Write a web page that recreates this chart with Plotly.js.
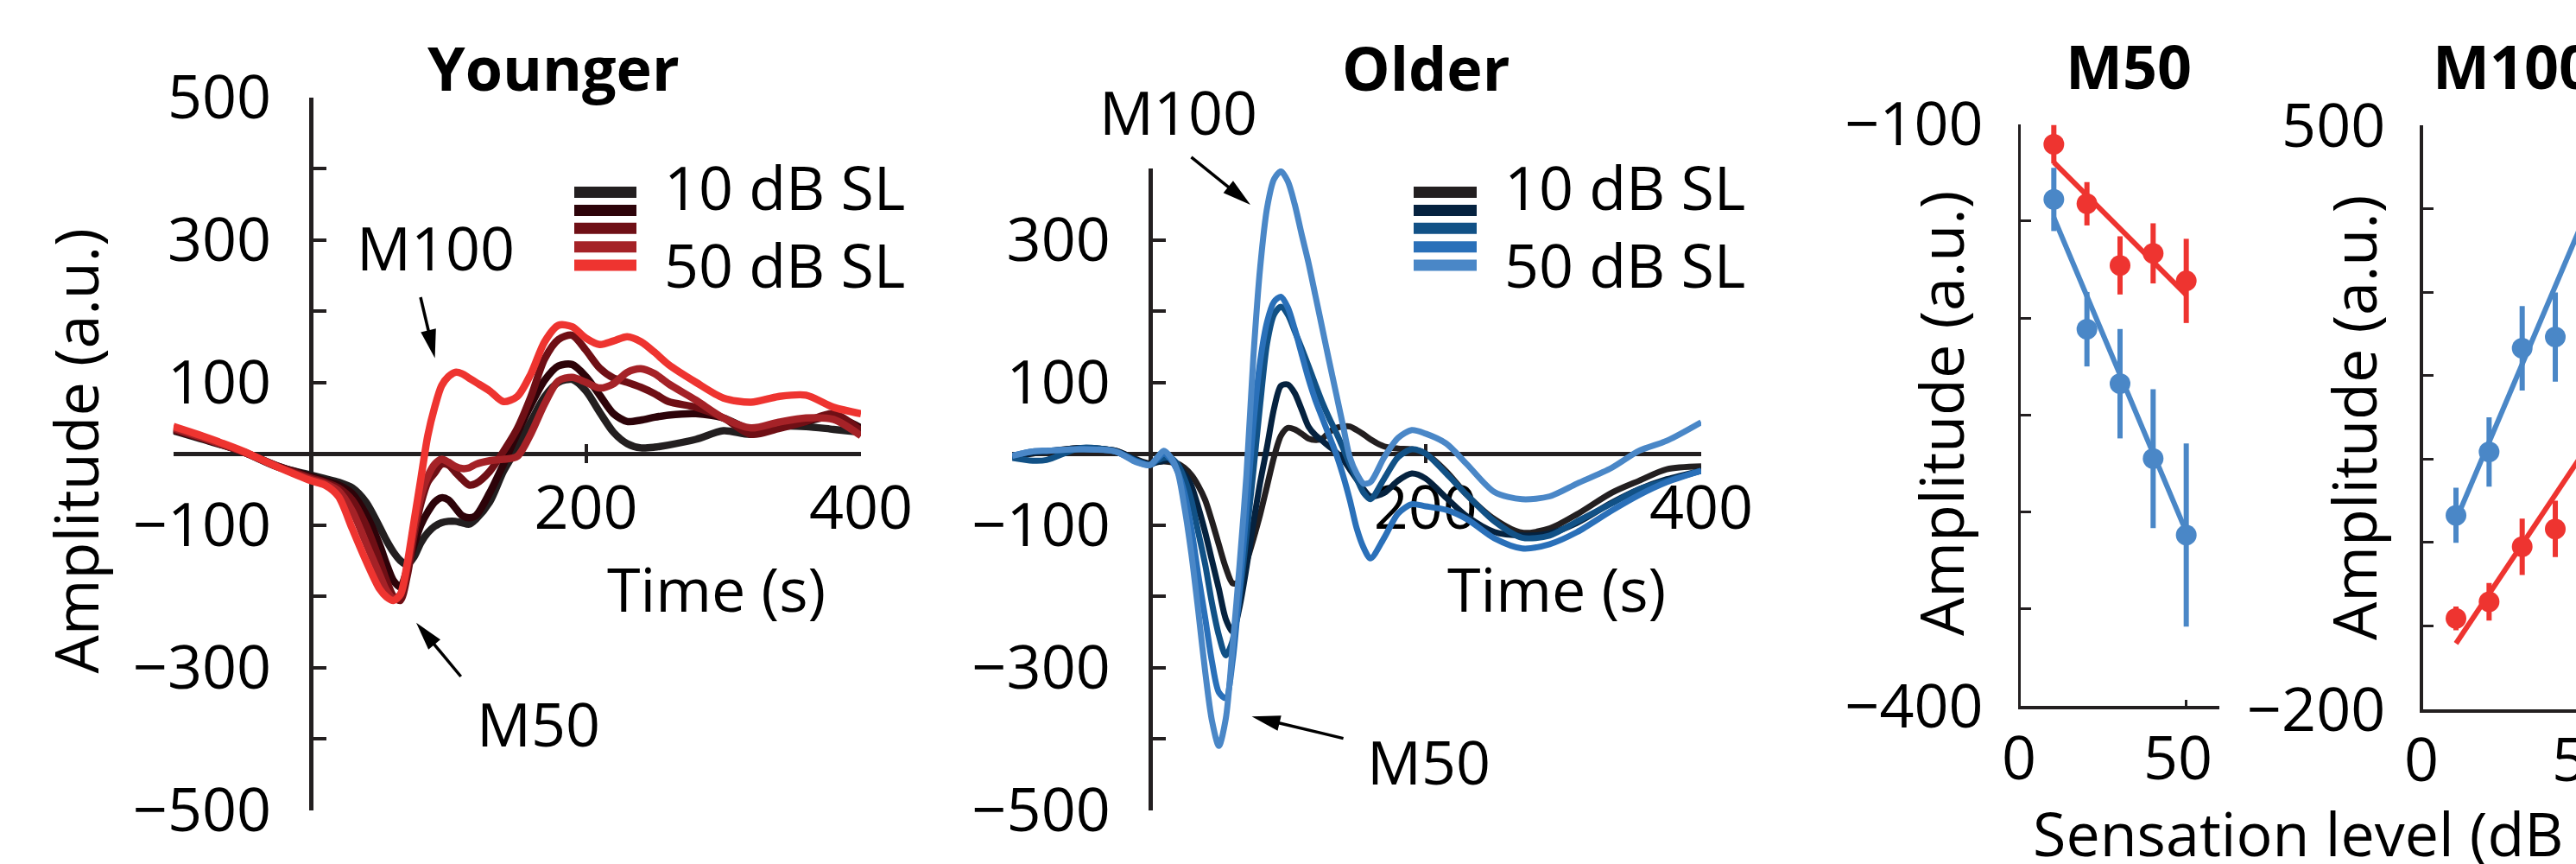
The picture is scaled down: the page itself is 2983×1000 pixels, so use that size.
<!DOCTYPE html>
<html><head><meta charset="utf-8">
<script src="https://cdn.plot.ly/plotly-3.0.1.min.js"></script>
<style>html,body{margin:0;padding:0;background:#fff;}#chart{width:2983px;height:1000px;}</style>
</head><body><div id="chart"></div>
<script>
// ---------------- DATA ----------------
const youngerTime = [-100,-75,-50,-25,0,10,20,30,40,50,55,60,65,70,75,80,85,90,95,100,105,110,115,120,130,140,150,160,170,180,190,200,210,220,230,240,250,260,280,300,320,340,360,380,400];
const youngerSL10 = [32,18,3,-18,-30, -35,-40,-48,-68,-103, -122,-138,-150,-156,-145, -125,-111,-102,-97,-95, -95,-97,-99,-92,-68, -25,8,45,80,100, 104,88,58,30,14, 8,9,12,20,32, 27,38,38,34,30];
const youngerSL20 = [33,19,3,-17,-32, -38,-44,-56,-85,-128, -155,-178,-187,-162,-128, -100,-82,-68,-62,-65, -76,-87,-90,-87,-55, -15,28,68,103,123, 125,108,82,56,45, 47,51,54,56,50, 34,38,45,52,36];
const youngerSL30 = [34,19,3,-17,-34, -40,-48,-65,-100,-150, -178,-200,-206,-172,-115, -70,-40,-27,-15,-16, -26,-36,-44,-42,-25, 3,35,80,133,160, 166,145,120,106,100, 93,84,73,65,50, 27,35,45,56,32];
const youngerSL40 = [36,20,3,-18,-36, -42,-52,-80,-125,-170, -192,-203,-198,-160,-105, -60,-32,-15,-8,-12, -18,-21,-20,-15,-10, -8,-4,28,70,102, 107,100,92,98,114, 119,112,98,75,50, 36,44,50,48,25];
const youngerSL50 = [38,22,4,-18,-38, -44,-60,-105,-150,-190, -201,-206,-198,-155,-95, -35,25,65,95,108, 114,112,106,100,88, 73,80,112,157,180, 178,162,153,158,164, 157,142,125,100,78, 72,80,82,65,56];

const olderTime = [-100,-85,-75,-50,-25,-10,0,5,10,15,20,25,30,35,40,45,50,55,60,65,70,75,80,85,90,95,100,105,110,115,120,125,130,135,140,145,150,155,160,170,180,190,200,215,230,250,270,290,310,335,355,375,400];
const olderSL10 = [-4,0,3,8,4, -8,-14,-12,-11,-12, -14,-20,-30,-45,-65, -95,-128,-160,-182,-180, -152,-120,-85,-45,-5, 25,36,34,28,21, 19,21,30,36,38, 38,33,27,20,10, 7,6,0,-25,-58, -92,-111,-105,-85,-55, -38,-22,-18];
const olderSL20 = [-3,1,3,8,4, -9,-15,-12,-10,-8, -15,-28,-45,-75,-110, -150,-190,-232,-250,-215, -160,-98,-40,10,63, 95,97,85,62,38, 26,18,10,2,-8, -22,-36,-50,-60,-55, -38,-28,-35,-62,-88, -110,-115,-112,-97,-69, -50,-36,-24];
const olderSL30 = [-6,-10,-9,8,3, -10,-16,-10,-6,-6, -15,-35,-65,-110,-155, -210,-255,-283,-262,-200, -115,-25,70,155,195, 206,195,172,148,123, 97,72,50,30,8, -15,-35,-55,-64,-35, -5,6,0,-28,-58, -95,-118,-115,-95,-70, -50,-38,-24];
const olderSL40 = [-3,3,4,6,3, -11,-16,-8,0,-8, -25,-55,-105,-170,-230, -292,-335,-343,-290,-190, -80,40,130,185,213, 220,205,175,140,105, 75,50,25,0,-30, -65,-105,-132,-147,-118, -84,-71,-74,-79,-92, -119,-133,-127,-110,-80, -58,-40,-24];
const olderSL50 = [-3,3,4,6,3, -12,-16,-6,4,-5, -25,-75,-140,-220,-305, -375,-410,-372,-270,-156, -30,135,262,345,385, 396,382,350,308,268, 222,176,130,85,40, -5,-28,-42,-40,-5, 22,33,28,14,-15, -54,-64,-60,-42,-20, 4,18,44];

const sensationLevels = [10,20,30,40,50];
const m50Younger = [-110.5,-141.1,-172.9,-166.7,-180.9];
const m50YoungerErr = [9.9,11.2,15,15.5,21.7];
const m50Older = [-138.9,-205.8,-233.9,-272.5,-311.9];
const m50OlderErr = [16.3,19.2,28.2,35.8,47.2];
const m100Levels = [10,20,30,40];
const m100Younger = [-90.9,-71,-5,16.3];
const m100YoungerErr = [14.3,22.6,33.8,33.8];
const m100Older = [32.7,108.7,233,246.5];
const m100OlderErr = [33,41.6,50.6,53.5];
const fitLevels = [10,50];
const m50YoungerFit = [-119.8,-188.1];
const m50OlderFit = [-148.3,-310.3];
const m100YoungerFit = [-121,117];
const m100OlderFit = [27,401];

const waveTickVals = [-500,-400,-300,-200,-100,0,100,200,300,400,500];
const waveTickText = ['\u2212500','','\u2212300','','\u2212100','','100','','300','','500'];
const timeTickVals = [200,400];
const timeTickText = ['200','400'];
const m50TickVals = [-400,-350,-300,-250,-200,-150,-100];
const m50TickText = ['\u2212400','','','','','','\u2212100'];
const m100TickVals = [-200,-100,0,100,200,300,400,500];
const m100TickText = ['\u2212200','','','','','','','500'];
const slTickVals = [0,50];
const slTickText = ['0','50'];
const legendLabels = ['10 dB SL','50 dB SL'];

const youngerColors = ['#231f20','#2d0309','#6f0f15','#a52227','#ee3430'];
const olderColors = ['#231f20','#05223f','#115186','#2a70b9','#4a87c7'];
const red = '#ee3430', blue = '#4a87c7', axisCol = '#231f20';

// ---------------- LAYOUT HELPERS ----------------
const W = 2983, H = 1000;
const PX = x => x / W, PY = y => 1 - y / H;
const FONT = '"Open Sans", "Noto Sans", sans-serif';
const M100_X0 = 2805.7, SL_PX_PER_UNIT = 3.833;

const traces = [];
const yS = [youngerSL10,youngerSL20,youngerSL30,youngerSL40,youngerSL50];
yS.forEach((s,i)=>traces.push({x:youngerTime,y:s,xaxis:'x',yaxis:'y',mode:'lines',
  line:{color:youngerColors[i],width:8.5,shape:'spline',smoothing:0.8},hoverinfo:'skip'}));
const oS = [olderSL10,olderSL20,olderSL30,olderSL40,olderSL50];
oS.forEach((s,i)=>traces.push({x:olderTime,y:s,xaxis:'x2',yaxis:'y2',mode:'lines',
  line:{color:olderColors[i],width:7,shape:'spline',smoothing:0.8},hoverinfo:'skip'}));

function fit(x,y,ax,ay,c){return {x:x,y:y,xaxis:ax,yaxis:ay,mode:'lines',line:{color:c,width:6},cliponaxis:false};}
function pts(x,y,e,ax,ay,c){return {x:x,y:y,xaxis:ax,yaxis:ay,mode:'markers',cliponaxis:false,
  marker:{color:c,size:24},error_y:{type:'data',array:e,visible:true,color:c,thickness:6,width:0}};}
traces.push(fit(fitLevels,m50OlderFit,'x3','y3',blue));
traces.push(fit(fitLevels,m50YoungerFit,'x3','y3',red));
traces.push(pts(sensationLevels,m50Older,m50OlderErr,'x3','y3',blue));
traces.push(pts(sensationLevels,m50Younger,m50YoungerErr,'x3','y3',red));
traces.push(fit(fitLevels,m100OlderFit,'x4','y4',blue));
traces.push(fit(fitLevels,m100YoungerFit,'x4','y4',red));
traces.push(pts(m100Levels,m100Older,m100OlderErr,'x4','y4',blue));
traces.push(pts(m100Levels,m100Younger,m100YoungerErr,'x4','y4',red));

const tickFont = {family:FONT,size:70,color:'#000'};
function waveX(d0,d1){return {domain:[PX(d0),PX(d1)],range:[-100,400],anchor:'free',position:PY(536),
  showline:false,zeroline:false,showgrid:false,ticks:'inside',ticklen:22,tickwidth:4,tickcolor:axisCol,
  tickmode:'array',tickvals:timeTickVals,ticktext:timeTickText,tickfont:tickFont,ticklabelstandoff:5,layer:'below traces'};}
function waveY(pos,top,rng,vals,text){return {domain:[PY(937.5),PY(top)],range:rng,anchor:'free',position:PX(pos),
  showline:true,linewidth:5,linecolor:axisCol,zeroline:true,zerolinewidth:5,zerolinecolor:axisCol,showgrid:false,
  ticks:'inside',ticklen:15,tickwidth:4,tickcolor:axisCol,tickmode:'array',tickvals:vals,ticktext:text,
  tickfont:tickFont,ticklabelstandoff:30,layer:'below traces'};}
function slX(d0,d1,rng,anchor){return {domain:[d0,d1],range:rng,anchor:anchor,showline:true,linewidth:3.5,
  linecolor:axisCol,zeroline:false,showgrid:false,ticks:'inside',ticklen:7,tickwidth:3,tickcolor:axisCol,
  tickmode:'array',tickvals:slTickVals,ticktext:slTickText,showticklabels:false};}
function slY(d0,d1,rng,anchor,vals,text){return {domain:[d0,d1],range:rng,anchor:anchor,showline:true,linewidth:3.5,
  linecolor:axisCol,zeroline:false,showgrid:false,ticks:'inside',ticklen:12,tickwidth:3,tickcolor:axisCol,
  tickmode:'array',tickvals:vals,ticktext:text,tickfont:tickFont,ticklabelstandoff:26};}

const layout = {
  width:W,height:H,margin:{l:0,r:0,t:0,b:0},paper_bgcolor:'#fff',plot_bgcolor:'rgba(0,0,0,0)',showlegend:false,
  font:{family:FONT,color:'#000'},
  xaxis: waveX(200.75,997),
  yaxis: waveY(360,112.5,[-500,500],waveTickVals,waveTickText),
  xaxis2: waveX(1172.1,1970),
  yaxis2: waveY(1331.7,195,[-500,400],waveTickVals.slice(0,10),waveTickText.slice(0,10)),
  xaxis3: slX(PX(2340),PX(2570),[0,60],'y3'),
  yaxis3: slY(PY(817),PY(143.5),[-400,-100],'x3',m50TickVals,m50TickText),
  xaxis4: slX(PX(M100_X0),1,[0,(W-M100_X0)/SL_PX_PER_UNIT],'y4'),
  yaxis4: slY(PY(821),PY(145.4),[-200,500],'x4',m100TickVals,m100TickText),
  annotations:[],shapes:[]
};

function txt(t,x,y,o){return Object.assign({text:t,x:PX(x),y:PY(y-2),xref:'paper',yref:'paper',showarrow:false,
  xanchor:'center',yanchor:'middle',font:{family:FONT,size:70,color:'#000'}},o||{});}
const A = layout.annotations;
A.push(txt('<b>Younger</b>',641,79.5));
A.push(txt('<b>Older</b>',1651,79.5));
A.push(txt('<b>M50</b>',2465,78));
A.push(txt('<b>M100</b>',2815,78,{xanchor:'left'}));
A.push(txt('Time (s)',829,682.5));
A.push(txt('Time (s)',1802,682.5));
A.push(txt('Amplitude (a.u.)',86,524.5,{textangle:-90}));
A.push(txt('Amplitude (a.u.)',2247,481,{textangle:-90}));
A.push(txt('Amplitude (a.u.)',2725,486,{textangle:-90}));
A.push(txt('Sensation level (dB SL)',2352,966,{xanchor:'left'}));
// x tick labels of the sensation-level axes (placed on the axes' own scale)
slTickVals.forEach((v,i)=>{
  A.push(Object.assign(txt(slTickText[i],0,877),{xref:'x3',x:v,xshift:i?-10:-2}));
  A.push(txt(slTickText[i],M100_X0+v*SL_PX_PER_UNIT-2,879));
});
A.push(txt('M100',504,288));
A.push(txt('M50',623,838.5));
A.push(txt('M100',1364.7,130.6));
A.push(txt('M50',1654,883.3));
A.push(txt(legendLabels[0],767,217.5,{xanchor:'left'}));
A.push(txt(legendLabels[1],767,308,{xanchor:'left'}));
A.push(txt(legendLabels[0],1740,217.5,{xanchor:'left'}));
A.push(txt(legendLabels[1],1740,308,{xanchor:'left'}));

const S = layout.shapes;
const rowY = [222.5,243.5,264.3,285.7,307];
function swatches(x0,x1,cols){cols.forEach((c,i)=>S.push({type:'rect',xref:'paper',yref:'paper',
  x0:PX(x0),x1:PX(x1),y0:PY(rowY[i]-6.5),y1:PY(rowY[i]+6.5),fillcolor:c,line:{width:0}}));}
swatches(665,737,youngerColors);
swatches(1637,1710,olderColors);

function arrow(tx,ty,hx,hy){
  const dx=hx-tx,dy=hy-ty,L=Math.hypot(dx,dy),ux=dx/L,uy=dy/L,hl=33,hw=9;
  const bx=hx-ux*hl,by=hy-uy*hl,nx=-uy,ny=ux;
  S.push({type:'line',xref:'paper',yref:'paper',x0:PX(tx),y0:PY(ty),x1:PX(bx+ux*4),y1:PY(by+uy*4),
    line:{color:'#000',width:3.5}});
  S.push({type:'path',xref:'paper',yref:'paper',fillcolor:'#000',line:{width:0},
    path:`M${PX(hx)},${PY(hy)} L${PX(bx+nx*hw)},${PY(by+ny*hw)} L${PX(bx-nx*hw)},${PY(by-ny*hw)} Z`});
}
arrow(487,344,503.6,414.5);
arrow(533.7,783,482,720.7);
arrow(1379.5,181.8,1448,237);
arrow(1555.6,854.6,1449.5,829.2);

Plotly.newPlot('chart',traces,layout,{staticPlot:true,displayModeBar:false});
</script></body></html>
